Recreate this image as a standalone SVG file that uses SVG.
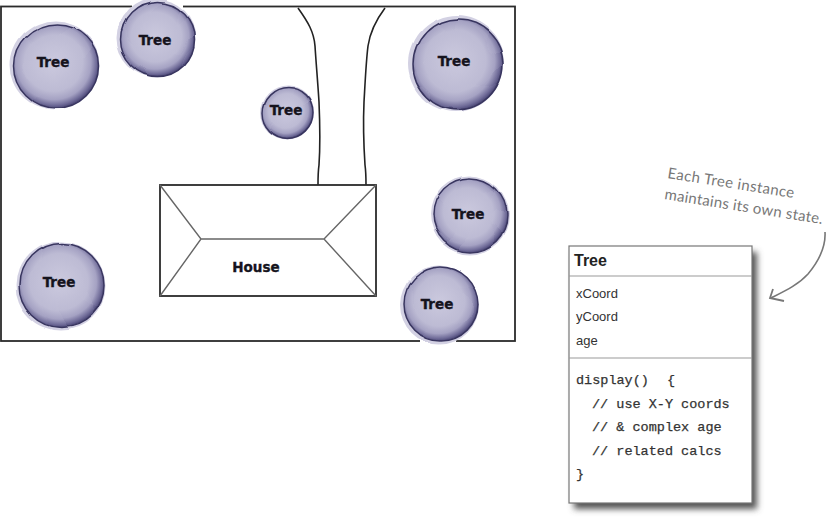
<svg xmlns="http://www.w3.org/2000/svg" width="827" height="520" viewBox="0 0 827 520">
<style>
.bd{fill:none;stroke:#2b2b2b;stroke-width:1.8}
.rf{fill:none;stroke:#666;stroke-width:1.4}
.path{fill:none;stroke:#222;stroke-width:1.6}
.lbl{font-family:"DejaVu Sans",sans-serif;font-weight:700;font-size:13.5px;fill:#15131d;stroke:#15131d;stroke-width:.35;text-anchor:middle}
.halo{fill:#d3d1e3}
.disc{fill:url(#g);stroke:#38355f;stroke-width:1.5}
.uf{font-family:"Liberation Sans",Arial,sans-serif;font-size:13px;fill:#333}
.code{font-family:"Liberation Mono","Courier New",monospace;font-size:13.5px;fill:#333;stroke:#333;stroke-width:.25;white-space:pre}
.hand{font-family:"Lato","Open Sans",sans-serif;font-size:15px;fill:#777}
</style>
<defs>
<radialGradient id="g" cx=".47" cy=".46" r=".55"><stop offset="0" stop-color="#cbc9de"/><stop offset=".62" stop-color="#bdbbd4"/><stop offset=".8" stop-color="#a5a2c3"/><stop offset=".92" stop-color="#6f6b98"/><stop offset="1" stop-color="#44406f"/></radialGradient>
<filter id="w1" x="-20%" y="-20%" width="140%" height="140%"><feTurbulence type="fractalNoise" baseFrequency=".02" seed="3"/><feDisplacementMap in="SourceGraphic" scale="6" xChannelSelector="R" yChannelSelector="G"/><feGaussianBlur stdDeviation=".6"/></filter>
<filter id="w2" x="-20%" y="-20%" width="140%" height="140%"><feTurbulence type="fractalNoise" baseFrequency=".025" seed="8"/><feDisplacementMap in="SourceGraphic" scale="6" xChannelSelector="G" yChannelSelector="R"/><feGaussianBlur stdDeviation=".6"/></filter>
<filter id="sh" x="-10%" y="-10%" width="125%" height="125%"><feGaussianBlur stdDeviation="3"/></filter>
</defs>
<g id="yard"><rect class="bd" x="1" y="6.500" width="514" height="334.500"/></g>
<g id="connectors">
<path class="path" d="M298 8C308 22 314 32 315 46C316 62 318 85 319 102C320 125 320 150 319 165C318 172 318 178 318 185"/>
<path class="path" d="M385 8C376 20 370 32 368 46C366 62 365 85 364 102C363 125 364 150 365 165C366 172 366 178 366 185"/>
<path d="M825 232C826 248 818 262 808 274C798 285 785 291 771 298" fill="none" stroke="#777" stroke-width="1.6"/>
<path d="M773 289L770 298L784 301" fill="none" stroke="#777" stroke-width="1.8"/>
</g>
<g id="house">
<rect class="bd" x="160" y="185" width="216" height="111"/>
<path class="rf" d="M160 185L201 239L160 296M376 185L324 239L376 296M201 239H324"/>
<text class="lbl" x="256" y="272">House</text>
</g>
<g id="tree1"><g filter="url(#w1)"><circle class="halo" cx="55" cy="65" r="44.500"/><circle class="disc" cx="56.500" cy="66" r="42"/></g><text class="lbl" x="53" y="67">Tree</text></g>
<g id="tree2"><rect x="132" y="0" width="51" height="9" fill="#fff"/><g filter="url(#w2)"><circle class="halo" cx="156" cy="38" r="39.500"/><circle class="disc" cx="157.500" cy="39.500" r="37"/></g><text class="lbl" x="155" y="45">Tree</text></g>
<g id="tree3"><g filter="url(#w1)"><circle class="halo" cx="287.500" cy="113" r="27.500"/><circle class="disc" cx="288" cy="113.500" r="26"/></g><text class="lbl" x="286" y="115">Tree</text></g>
<g id="tree4"><g filter="url(#w2)"><circle class="halo" cx="456" cy="63" r="48"/><circle class="disc" cx="458" cy="64" r="45"/></g><text class="lbl" x="454" y="66">Tree</text></g>
<g id="tree5"><g filter="url(#w1)"><circle class="halo" cx="469.500" cy="215" r="39.500"/><circle class="disc" cx="470" cy="215" r="37"/></g><text class="lbl" x="468" y="219">Tree</text></g>
<g id="tree6"><rect x="420" y="338" width="36" height="6" fill="#fff"/><g filter="url(#w2)"><circle class="halo" cx="439.500" cy="305" r="39.500"/><circle class="disc" cx="441" cy="304" r="37"/></g><text class="lbl" x="437" y="309">Tree</text></g>
<g id="tree7"><g filter="url(#w1)"><circle class="halo" cx="61" cy="286" r="44.500"/><circle class="disc" cx="62" cy="285.500" r="42"/></g><text class="lbl" x="59" y="287">Tree</text></g>
<g id="tree-class">
<rect x="574" y="252" width="183" height="257" fill="#555" filter="url(#sh)"/>
<rect x="569" y="246" width="183" height="257" fill="#fff" stroke="#777" stroke-width="1.2"/>
<path d="M569 276H752M569 358H752" stroke="#999" stroke-width="1.2" fill="none"/>
<text x="574" y="265.500" font-family="Liberation Sans,Arial,sans-serif" font-weight="700" font-size="16px" fill="#222">Tree</text>
<text class="uf" x="576" y="298">xCoord</text>
<text class="uf" x="576" y="321">yCoord</text>
<text class="uf" x="576" y="345">age</text>
<text class="code" x="576" y="384">display()<tspan x="667">{</tspan></text>
<text class="code" x="592" y="408">// use X-Y coords</text>
<text class="code" x="592" y="431">// &amp; complex age</text>
<text class="code" x="592" y="455">// related calcs</text>
<text class="code" x="576" y="478">}</text>
</g>
<g id="note">
<text class="hand" transform="translate(667 178) rotate(9)" textLength="128">Each Tree instance</text>
<text class="hand" transform="translate(664 199) rotate(9)" textLength="160">maintains its own state.</text>
</g>
</svg>
